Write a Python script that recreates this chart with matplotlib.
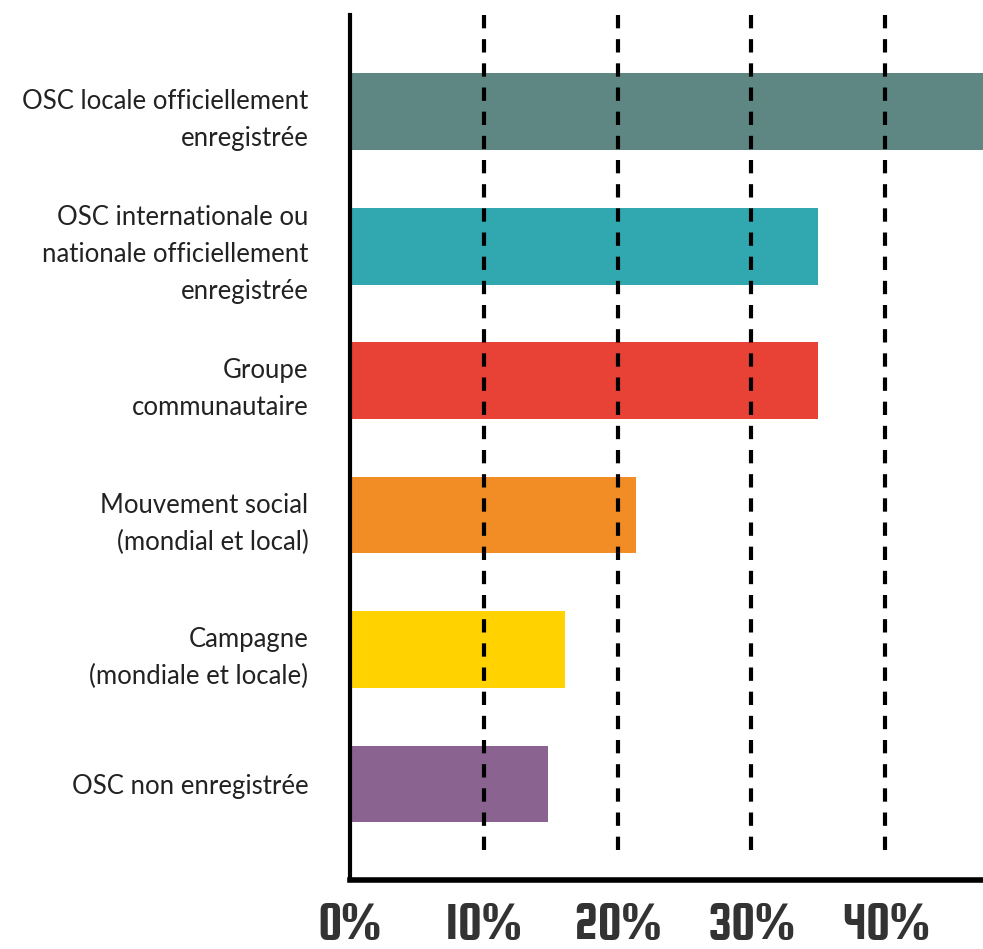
import matplotlib
matplotlib.use("Agg")
import matplotlib.pyplot as plt

categories = [
    "OSC locale officiellement\nenregistrée",
    "OSC internationale ou\nnationale officiellement\nenregistrée",
    "Groupe\ncommunautaire",
    "Mouvement social\n(mondial et local)",
    "Campagne\n(mondiale et locale)",
    "OSC non enregistrée",
]
values = [47.5, 35.0, 35.0, 21.4, 16.1, 14.8]
colors = ["#5E8783", "#31A8AF", "#E84135", "#F28C25", "#FFD200", "#8B6390"]
xticks = [0, 10, 20, 30, 40]
xticklabels = ["0%", "10%", "20%", "30%", "40%"]

W, H = 983, 949
fig = plt.figure(figsize=(W / 100, H / 100), dpi=100)
ax = fig.add_axes([350 / W, (H - 880) / H, (W - 350) / W, (880 - 15) / H])

n = len(categories)
ypos = [n - 1 - i for i in range(n)]

ax.barh(ypos, values, height=0.57, color=colors, zorder=1)
ax.vlines(xticks[1:], 5.72, -0.565, colors="black", linestyles=(0, (3.2, 2.6)),
          linewidth=3, zorder=2)

ax.set_xlim(0, 47.3)
ax.set_ylim(-0.714, 5.72)

for s in ["top", "right"]:
    ax.spines[s].set_visible(False)
ax.spines["left"].set_linewidth(3)
ax.spines["bottom"].set_linewidth(4)
ax.spines["left"].set_zorder(3)
ax.spines["bottom"].set_zorder(3)

ax.set_yticks(ypos)
ax.set_yticklabels(categories, fontsize=18.5, family=["Lato", "DejaVu Sans"],
                   color="#222222", linespacing=1.6, ha="right")
ax.tick_params(axis="y", length=0, pad=30)

ax.set_xticks(xticks)
ax.set_xticklabels(xticklabels, fontsize=38, family=["Squada One", "DejaVu Sans"],
                   color="#333333")
ax.tick_params(axis="x", length=0, pad=17)

fig.savefig("out.png", dpi=100)
